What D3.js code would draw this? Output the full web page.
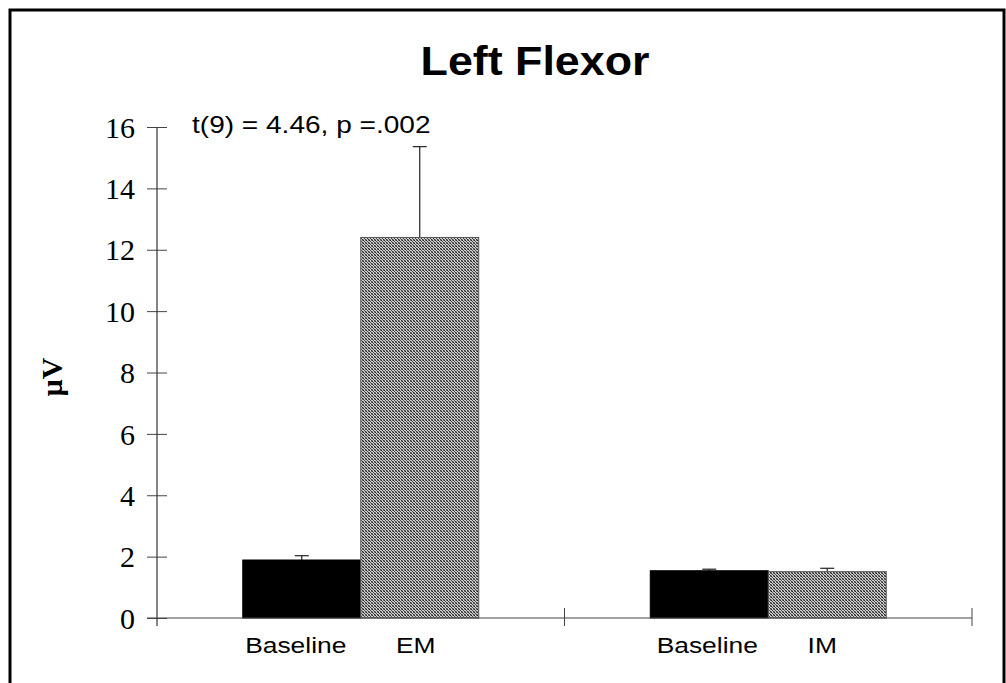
<!DOCTYPE html>
<html>
<head>
<meta charset="utf-8">
<script src="https://cdn.jsdelivr.net/npm/d3@7/dist/d3.min.js"></script>
<style>
  body { margin: 0; background: #fff; }
  svg { display: block; }
</style>
</head>
<body>
<div id="chart"></div>
<script>
var groups = ["EM", "IM"];
var conditions = ["Baseline", "Condition"];
var barLabels = [["Baseline", "EM"], ["Baseline", "IM"]];
var means = [[1.89, 12.40], [1.54, 1.51]];
var errTops = [[2.03, 15.36], [1.59, 1.62]];
var yTicks = [0, 2, 4, 6, 8, 10, 12, 14, 16];

var width = 1006, height = 683;
var sans = "Liberation Sans, Arial, sans-serif";
var serif = "Liberation Serif, Times New Roman, serif";
var labelNudge = [[-6, -4], [-2, -5]];

var svg = d3.select("#chart").append("svg")
    .attr("width", width)
    .attr("height", height);

// dither pattern for the second bar of each pair
var defs = svg.append("defs");
var pat = defs.append("pattern")
    .attr("id", "dots")
    .attr("width", 3).attr("height", 3)
    .attr("patternUnits", "userSpaceOnUse");
pat.append("rect").attr("width", 3).attr("height", 3).attr("fill", "#cfcfcf");
[[0, 0, "#222"], [1, 1, "#444"], [2, 2, "#333"], [2, 0, "#777"], [0, 2, "#888"]].forEach(function(p) {
  pat.append("rect").attr("x", p[0]).attr("y", p[1]).attr("width", 1).attr("height", 1).attr("fill", p[2]);
});

// frame
svg.append("rect")
    .attr("x", 10).attr("y", 10)
    .attr("width", 994).attr("height", 690)
    .attr("fill", "none")
    .attr("stroke", "#000")
    .attr("stroke-width", 3);

var y = d3.scaleLinear()
    .domain([0, 16])
    .range([618, 127]);

var x0 = d3.scaleBand()
    .domain(groups)
    .range([157, 972])
    .padding(0);

var x1 = d3.scaleBand()
    .domain(conditions)
    .range([0, x0.bandwidth()])
    .paddingInner(0)
    .paddingOuter(0.727);

// text stretched horizontally like the scanned original
function wideText(parent, x, yy, sx, str, size, anchor, weight, family) {
  return parent.append("g")
      .attr("transform", "translate(" + x + "," + yy + ") scale(" + sx + ",1)")
    .append("text")
      .attr("text-anchor", anchor)
      .attr("font-family", family || sans)
      .attr("font-weight", weight || "normal")
      .attr("font-size", size)
      .text(str);
}

// title
wideText(svg, 535, 75, 1.12, "Left Flexor", 40, "middle", "bold");

// annotation
wideText(svg, 192, 133, 1.22, "t(9) = 4.46, p =.002", 23, "start");

// y axis label
svg.append("text")
    .attr("transform", "translate(62,377) rotate(-90)")
    .attr("text-anchor", "middle")
    .attr("font-family", serif)
    .attr("font-weight", "bold")
    .attr("font-size", 30)
    .text("µV");

// y axis
var yAxis = svg.append("g")
    .attr("transform", "translate(157,0)")
    .call(d3.axisLeft(y).tickValues(yTicks).tickSize(10).tickPadding(12));
yAxis.select(".domain").remove();
yAxis.selectAll(".tick line")
    .attr("x1", -10).attr("x2", 10)
    .attr("stroke", "#444");
yAxis.selectAll(".tick text")
    .attr("font-family", serif)
    .attr("font-size", 30)
    .attr("dy", "0.34em")
    .attr("fill", "#000");
svg.append("line")
    .attr("x1", 157).attr("x2", 157)
    .attr("y1", y(16)).attr("y2", 626)
    .attr("stroke", "#333").attr("stroke-width", 1.2);

// bars
var data = [];
groups.forEach(function(g, gi) {
  conditions.forEach(function(c, ci) {
    data.push({ group: g, cond: c, label: barLabels[gi][ci], mean: means[gi][ci], err: errTops[gi][ci], gi: gi, ci: ci });
  });
});

function cx(d) { return x0(d.group) + x1(d.cond) + x1.bandwidth() / 2; }

var bar = svg.selectAll(".bar").data(data).enter().append("g").attr("class", "bar");

// error bars (drawn behind bars)
bar.append("line")
    .attr("x1", cx).attr("x2", cx)
    .attr("y1", function(d) { return y(d.mean); })
    .attr("y2", function(d) { return y(d.err); })
    .attr("stroke", "#222").attr("stroke-width", 1.2);
bar.append("line")
    .attr("x1", function(d) { return cx(d) - 7; })
    .attr("x2", function(d) { return cx(d) + 7; })
    .attr("y1", function(d) { return y(d.err); })
    .attr("y2", function(d) { return y(d.err); })
    .attr("stroke", "#222").attr("stroke-width", 1.2);

bar.append("rect")
    .attr("x", function(d) { return x0(d.group) + x1(d.cond); })
    .attr("y", function(d) { return y(d.mean); })
    .attr("width", x1.bandwidth())
    .attr("height", function(d) { return y(0) - y(d.mean); })
    .attr("fill", function(d) { return d.ci === 0 ? "#000" : "url(#dots)"; })
    .attr("stroke", function(d) { return d.ci === 0 ? "#000" : "#555"; })
    .attr("stroke-width", 1);

// bar labels
bar.each(function(d) {
  wideText(d3.select(this), cx(d) + labelNudge[d.gi][d.ci], 653, 1.2, d.label, 22, "middle");
});

// x axis
svg.append("line")
    .attr("x1", 147).attr("x2", x0.range()[1])
    .attr("y1", y(0)).attr("y2", y(0))
    .attr("stroke", "#444").attr("stroke-width", 1.2);
svg.selectAll(".xtick").data(groups.slice(1).map(function(g) { return x0(g); }).concat([x0.range()[1]]))
  .enter().append("line")
    .attr("class", "xtick")
    .attr("x1", function(d) { return d; }).attr("x2", function(d) { return d; })
    .attr("y1", y(0) - 10).attr("y2", y(0) + 8)
    .attr("stroke", "#444");
</script>
</body>
</html>
